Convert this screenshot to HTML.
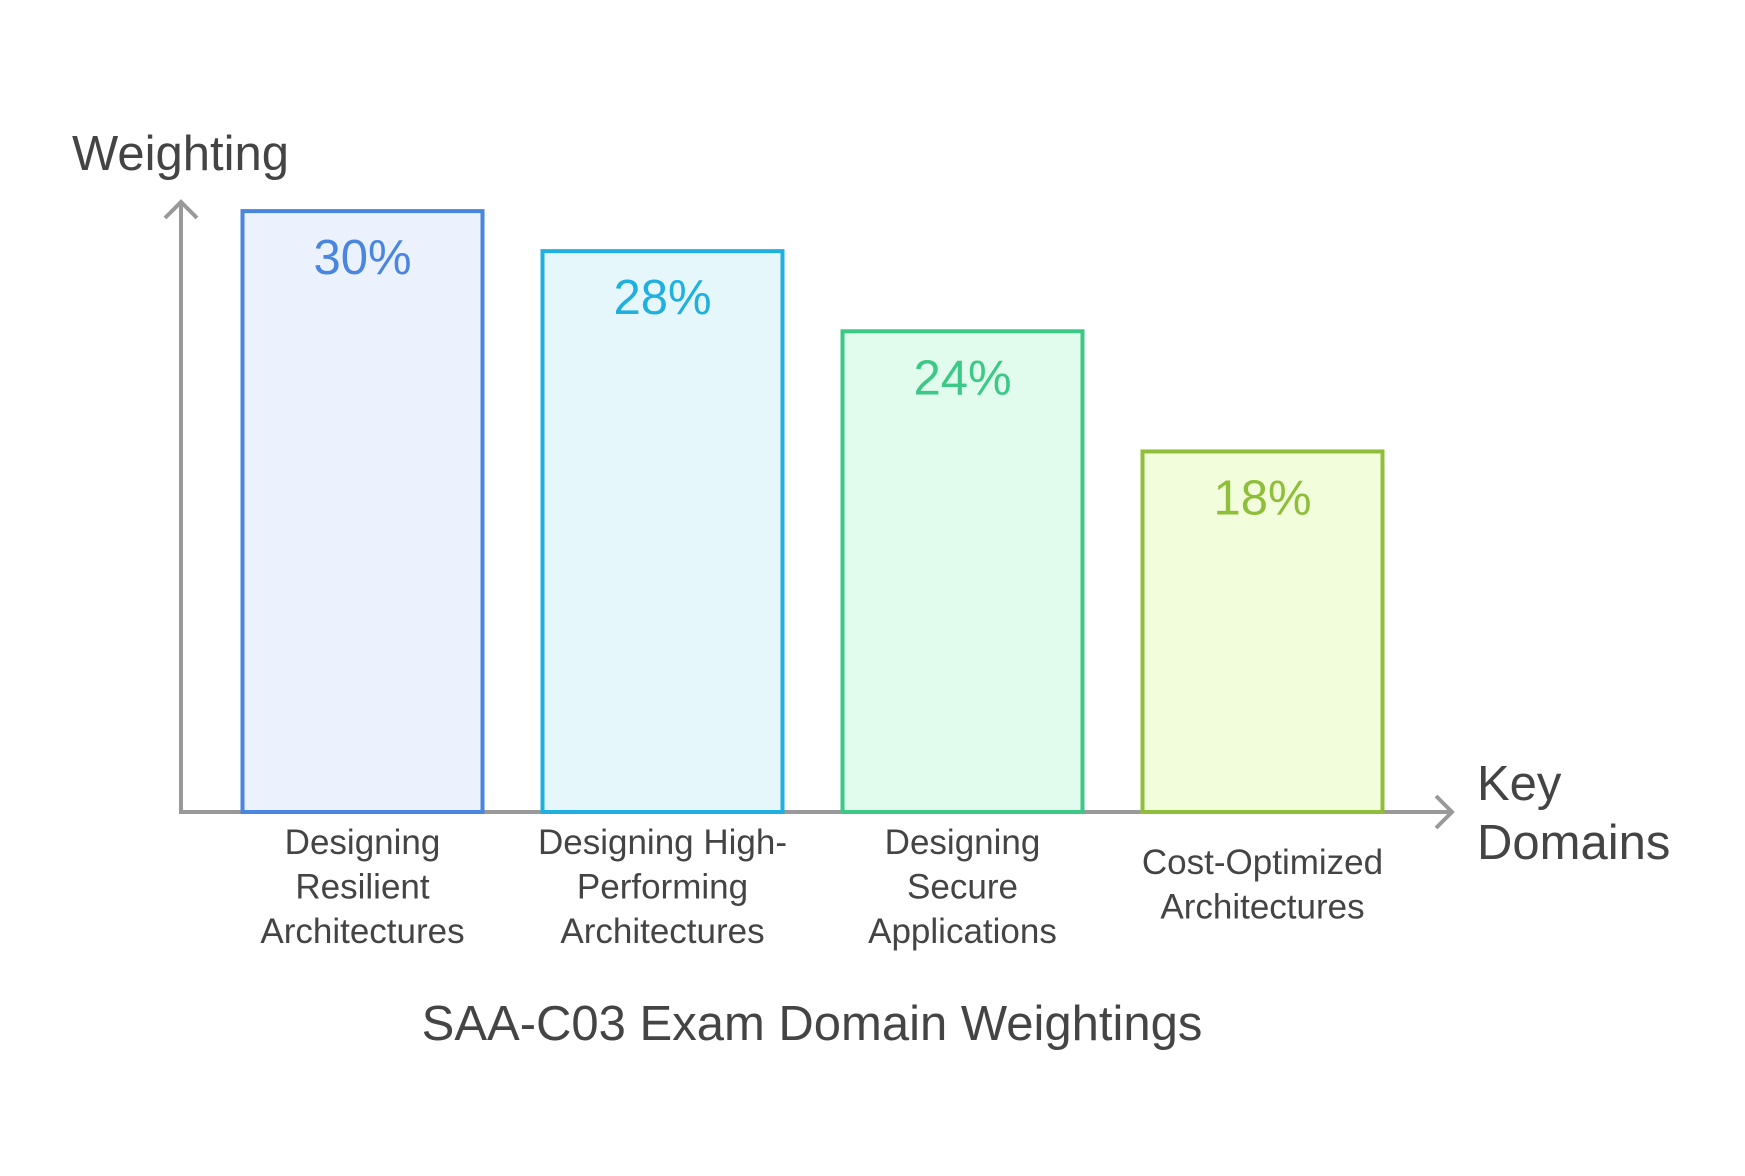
<!DOCTYPE html>
<html><head><meta charset="utf-8"><style>
html,body{margin:0;padding:0;background:#fff;}
svg{display:block;font-family:"Liberation Sans",Arial,sans-serif;}
</style></head><body>
<svg id="chart" width="1745" height="1176" viewBox="0 0 1745 1176" xmlns="http://www.w3.org/2000/svg">
<text x="72" y="170" font-size="49" fill="#444">Weighting</text>
<line x1="181" y1="812" x2="181" y2="202" stroke="#999" stroke-width="4"/>
<polyline points="165,218 181,202 197,218" fill="none" stroke="#999" stroke-width="4"/>
<line x1="179" y1="812" x2="1452" y2="812" stroke="#999" stroke-width="4"/>
<polyline points="1436,796 1452,812 1436,828" fill="none" stroke="#999" stroke-width="4"/>
<text font-size="49" fill="#444"><tspan x="1477" y="800">Key</tspan><tspan x="1477" y="859">Domains</tspan></text>
<g id="bars"></g>
<text x="812" y="1040" font-size="49" fill="#444" text-anchor="middle">SAA-C03 Exam Domain Weightings</text>
</svg>
<script>
const categories = [["Designing","Resilient","Architectures"],["Designing High-","Performing","Architectures"],["Designing","Secure","Applications"],["Cost-Optimized","Architectures"]];
const values = [30, 28, 24, 18];
const valueLabels = ["30%","28%","24%","18%"];
const strokes = ["#4a86e0","#1fb0e0","#3cc987","#8fbf3a"];
const fills = ["#ebf2fd","#e6f7fc","#e1fbed","#f2fddc"];
const NS = "http://www.w3.org/2000/svg";
const baseY = 812, pxPer = 20.03;
function yScale(v){ return baseY - v * pxPer; }
function xScale(i){ return 242.5 + i * 300; }
const barW = 240;
const g = document.getElementById("bars");
values.forEach((v,i)=>{
  const x = xScale(i), y = yScale(v);
  const r = document.createElementNS(NS,"rect");
  
  
  r.setAttribute("x", x); r.setAttribute("y", y);
  r.setAttribute("width", barW); r.setAttribute("height", baseY - y);
  r.setAttribute("fill", fills[i]); r.setAttribute("stroke", strokes[i]); r.setAttribute("stroke-width", 4);
  g.appendChild(r);
  const t = document.createElementNS(NS,"text");
  
  
  t.setAttribute("x", x + barW/2); t.setAttribute("y", y + 63);
  t.setAttribute("text-anchor","middle"); t.setAttribute("font-size", 49); t.setAttribute("fill", strokes[i]);
  t.textContent = valueLabels[i];
  g.appendChild(t);
  const lines = categories[i];
  const startY = lines.length === 3 ? 854 : 874;
  const c = document.createElementNS(NS,"text");
  
  
  c.setAttribute("font-size", 35); c.setAttribute("fill", "#444"); c.setAttribute("text-anchor","middle");
  lines.forEach((ln,j)=>{
    const s = document.createElementNS(NS,"tspan");
    s.setAttribute("x", x + barW/2); s.setAttribute("y", startY + j*44.5);
    s.textContent = ln;
    c.appendChild(s);
  });
  g.appendChild(c);
});
</script>
</body></html>
